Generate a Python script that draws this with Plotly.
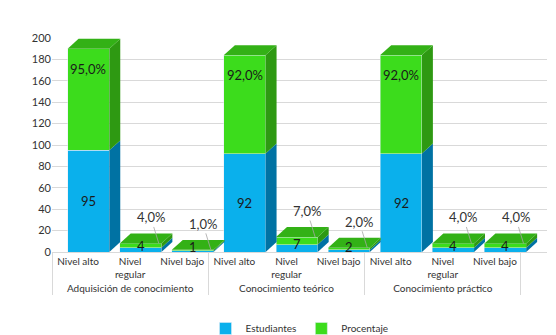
import plotly.graph_objects as go

groups = ["Adquisición de conocimiento"] * 3 + ["Conocimiento teórico"] * 3 + ["Conocimiento práctico"] * 3
levels = ["Nivel alto", "Nivel<br>regular", "Nivel bajo",
          "Nivel alto", "Nivel<br>regular", "Nivel bajo",
          "Nivel alto", "Nivel bajo", "Nivel<br>regular"]
estudiantes = [95, 4, 1, 92, 7, 2, 92, 4, 4]
porcentaje = [95, 4, 1, 92, 7, 2, 92, 4, 4]
y_ticks = list(range(0, 201, 20))

BLUE, BLUE_SIDE = "#0AB0EC", "#0072A3"
GREEN, GREEN_SIDE, GREEN_TOP = "#3CDC1C", "#2E9912", "#33B116"
FONT = "Lato"

W, OFF = 0.8, -0.2       # bar width and offset (category units)
DX, DY = 0.21, 9.3       # pseudo-3D depth
XR = [-0.5, 9.0]

fig = go.Figure()
fig.add_trace(go.Bar(name="Estudiantes", x=[groups, levels], y=estudiantes,
                     marker_color=BLUE, width=W, offset=OFF, hoverinfo="skip"))
fig.add_trace(go.Bar(name="Procentaje", x=[groups, levels], y=porcentaje,
                     marker_color=GREEN, width=W, offset=OFF, hoverinfo="skip"))
# helper trace so the numeric overlay axis exists
fig.add_trace(go.Scatter(x=XR, y=[0, 0], mode="none", xaxis="x2",
                         showlegend=False, hoverinfo="skip"))

shapes, annos = [], []
for i, (e, p) in enumerate(zip(estudiantes, porcentaje)):
    xl = i + OFF
    xr = xl + W
    for y0, y1, col in [(0, e, BLUE_SIDE), (e, e + p, GREEN_SIDE)]:
        shapes.append(dict(type="path", xref="x2", yref="y", layer="above",
                           path=f"M{xr},{y0} L{xr+DX},{y0+DY} L{xr+DX},{y1+DY} L{xr},{y1} Z",
                           fillcolor=col, line=dict(width=0)))
    t = e + p
    shapes.append(dict(type="path", xref="x2", yref="y", layer="above",
                       path=f"M{xl},{t} L{xl+DX},{t+DY} L{xr+DX},{t+DY} L{xr},{t} Z",
                       fillcolor=GREEN_TOP, line=dict(width=0)))
    xc = xl + W / 2
    annos.append(dict(x=xc, y=e / 2, xref="x2", yref="y", text=str(e), showarrow=False,
                      yshift=0 if e > 20 else 4,
                      font=dict(family=FONT, size=13, color="#1a1a1a")))
    ptxt = f"{p:.1f}".replace(".", ",") + "%"
    if p > 20:
        annos.append(dict(x=xc, y=e + p * 0.8, xref="x2", yref="y", text=ptxt, showarrow=False,
                          font=dict(family=FONT, size=13, color="#1a1a1a")))
    else:
        annos.append(dict(x=xr - 0.05, y=t, xref="x2", yref="y", text=ptxt, showarrow=True,
                          arrowhead=0, arrowwidth=0.8, arrowcolor="#A6A6A6", ax=-8, ay=-26,
                          font=dict(family=FONT, size=13, color="#333333")))

fig.update_layout(
    width=556, height=335,
    margin=dict(l=44, r=17, t=30, b=91),
    barmode="stack",
    plot_bgcolor="white", paper_bgcolor="white",
    font=dict(family=FONT, size=10, color="#333333"),
    shapes=shapes, annotations=annos,
    legend=dict(orientation="h", x=0.5, xanchor="center", yref="container", y=0.0,
                yanchor="bottom", traceorder="normal", itemwidth=30,
                font=dict(family=FONT, size=10, color="#333333")),
    xaxis=dict(type="multicategory", range=XR, showgrid=False, showline=True, linecolor="#D9D9D9",
               showdividers=True, dividercolor="#D9D9D9", dividerwidth=1, tickangle=0,
               tickfont=dict(family=FONT, size=10, color="#333333"), ticks=""),
    xaxis2=dict(overlaying="x", range=XR, visible=False),
    yaxis=dict(range=[0, 200], tickvals=y_ticks, showgrid=True, gridcolor="#D9D9D9",
               zeroline=False, showline=False, ticks="",
               tickfont=dict(family=FONT, size=11, color="#333333")),
)

fig.write_html("out.html")
